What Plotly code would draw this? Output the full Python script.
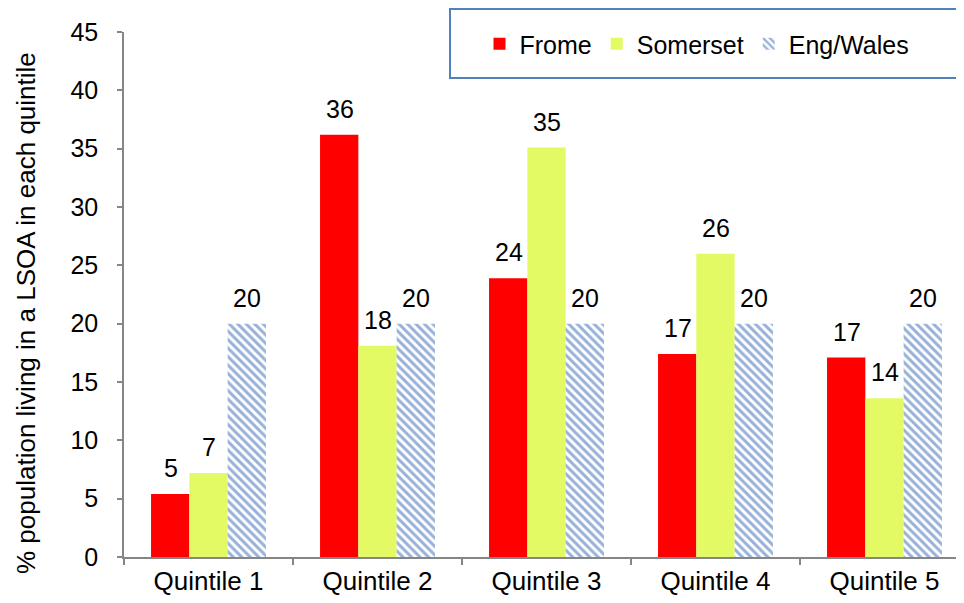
import plotly.graph_objects as go

categories = ["Quintile 1", "Quintile 2", "Quintile 3", "Quintile 4", "Quintile 5"]
frome = [5.4, 36.2, 23.9, 17.4, 17.1]
somerset = [7.2, 18.1, 35.1, 26.0, 13.6]
eng_wales = [20, 20, 20, 20, 20]
y_ticks = [0, 5, 10, 15, 20, 25, 30, 35, 40, 45]

series = [
    ("Frome", frome, "#FF0000", None),
    ("Somerset", somerset, "#E4FA64", None),
    ("Eng/Wales", eng_wales, "white",
     dict(shape="\\", fgcolor="#2F64B2", bgcolor="white", size=6, solidity=0.5)),
]

FONT = "Liberation Sans, Arial, sans-serif"
FS = 25
BAR_PX = 38  # horizontal pixel offset between grouped bars (for labels)

# plot area in page pixels (page body has an 8px margin)
PL, PR, PT, PB = 124, 964, 32, 557
PW, PH = PR - PL, PB - PT


def px(xp):
    return (xp - PL) / PW


def py(yp):
    return (PB - yp) / PH


fig = go.Figure()
for i, (name, vals, color, pattern) in enumerate(series):
    marker = dict(color=color, line=dict(width=0))
    if pattern:
        marker["pattern"] = pattern
    fig.add_trace(go.Bar(name=name, x=categories, y=vals, marker=marker))
    for cat, v in zip(categories, vals):
        fig.add_annotation(
            x=cat, y=v, text=f"{round(v)}", showarrow=False,
            xanchor="center", yanchor="bottom",
            xshift=(i - 1) * BAR_PX, yshift=10,
            font=dict(size=FS, family=FONT, color="black"),
        )

# y-axis title
fig.add_annotation(
    xref="paper", yref="paper", x=px(26), y=py(313),
    text="% population living in a LSOA in each quintile", textangle=-90,
    showarrow=False, xanchor="center", yanchor="middle",
    font=dict(size=26, family=FONT, color="black"),
)

# legend frame
fig.add_shape(type="rect", xref="paper", yref="paper",
              x0=px(450), x1=px(962), y0=py(78), y1=py(9),
              line=dict(color="#4F81BD", width=2), fillcolor="white", layer="above")

fig.update_layout(
    width=964 - 8, height=603 - 8,
    margin=dict(l=PL - 8, r=0, t=PT - 8, b=603 - PB, autoexpand=False),
    paper_bgcolor="white", plot_bgcolor="white",
    font=dict(family=FONT, size=FS, color="black"),
    barmode="group", bargap=0.32, bargroupgap=0,
    showlegend=True,
    legend=dict(
        orientation="h", x=px(697), xanchor="center",
        y=py(44), yanchor="middle",
        borderwidth=0, bgcolor="rgba(0,0,0,0)",
        font=dict(size=FS, family=FONT, color="black"),
        itemwidth=30,
    ),
)
fig.update_xaxes(
    range=[-0.5, 4.5 - 5 / 169],
    showline=True, linecolor="#868686", linewidth=1.5,
    ticks="outside", tickson="boundaries", ticklen=6, tickcolor="#868686", tickwidth=1.5,
    showgrid=False, tickfont=dict(size=26, family=FONT, color="black"),
)
fig.update_yaxes(
    range=[0, 45], tickvals=y_ticks,
    showline=True, linecolor="#868686", linewidth=1.5,
    ticks="outside", ticklen=5, tickcolor="#868686", tickwidth=1.5,
    ticklabelstandoff=14,
    showgrid=False, zeroline=False,
    tickfont=dict(size=FS, family=FONT, color="black"),
)

fig.write_html("out.html")
